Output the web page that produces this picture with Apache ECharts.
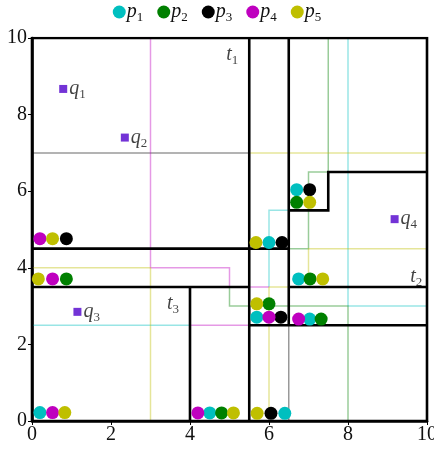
<!DOCTYPE html>
<html>
<head>
<meta charset="utf-8">
<script src="https://cdn.jsdelivr.net/npm/echarts@6/dist/echarts.min.js"></script>
<style>
  html, body { margin: 0; padding: 0; background: #fff; }
  #main { width: 434px; height: 452px; }
</style>
</head>
<body>
<div id="main"></div>
<script>
// point sets (x, y)
const p1 = [[0.2, 0.22], [4.5, 0.21], [6.4, 0.2], [6.0, 4.66], [6.7, 6.04], [6.75, 3.71], [5.69, 2.71], [7.03, 2.66]];
const p2 = [[4.8, 0.21], [0.87, 3.71], [6.7, 5.71], [7.04, 3.71], [6.0, 3.06], [7.32, 2.66]];
const p3 = [[0.87, 4.76], [6.05, 0.2], [6.33, 4.66], [7.03, 6.04], [6.3, 2.71]];
const p4 = [[0.2, 4.76], [0.52, 3.71], [0.52, 0.22], [4.2, 0.21], [6.0, 2.71], [6.75, 2.66]];
const p5 = [[0.52, 4.76], [0.16, 3.71], [0.83, 0.22], [5.1, 0.21], [5.7, 0.2], [5.67, 4.66], [7.03, 5.71], [7.36, 3.71], [5.69, 3.06]];

// query points
const queries = [[0.79, 8.67, '1'], [2.35, 7.4, '2'], [1.15, 2.85, '3'], [9.18, 5.27, '4']];

// tile labels
const tiles = [[5.07, 9.56, '1'], [9.73, 3.76, '2'], [3.57, 3.05, '3']];

// tile boundaries (thick)
const borders = [
  [[0, 0], [10, 0], [10, 10], [0, 10], [0, 0]],
  [[5.5, 0], [5.5, 10]],
  [[6.5, 2.5], [6.5, 10]],
  [[0, 4.5], [6.5, 4.5]],
  [[0, 3.5], [5.5, 3.5]],
  [[6.5, 3.5], [10, 3.5]],
  [[4, 0], [4, 3.5]],
  [[5.5, 2.5], [10, 2.5]],
  [[6.5, 5.5], [7.5, 5.5], [7.5, 6.5], [10, 6.5]]
];

// thin paths per set
const path1 = [
  [[8, 10], [8, 3], [10, 3]],
  [[6, 3.5], [6, 5.5], [6.5, 5.5]],
  [[0, 2.5], [4, 2.5]]
];
const path2 = [
  [[7.5, 10], [7.5, 6.5], [7, 6.5], [7, 4.5], [6.5, 4.5]],
  [[5, 3.5], [5, 3], [8, 3], [8, 0]]
];
const path3 = [
  [[0, 7], [5.5, 7]],
  [[6.5, 2.5], [6.5, 0]]
];
const path4 = [
  [[3, 10], [3, 4], [5, 4], [5, 3.5]],
  [[5.5, 3.5], [6, 3.5]],
  [[4, 2.5], [5.5, 2.5]]
];
const path5 = [
  [[0, 4], [3, 4], [3, 0]],
  [[5.5, 7], [10, 7]],
  [[10, 4.5], [7, 4.5], [7, 3.71]],
  [[6, 3.5], [6.5, 3.5]],
  [[6, 3.5], [6, 0.2]]
];

const names = ['p1', 'p2', 'p3', 'p4', 'p5'];
const colors = ['#00bfbf', '#008000', '#000000', '#bf00bf', '#bfbf00'];
const sets = [p1, p2, p3, p4, p5];
const paths = [path1, path2, path3, path4, path5];

const serif = 'Liberation Serif';
const mathRich = {
  i: { fontFamily: serif, fontStyle: 'italic', fontSize: 20, color: '#111' },
  s: { fontFamily: serif, fontSize: 13, color: '#111', padding: [11, 0, 0, 0] }
};

let myChart = echarts.init(document.getElementById('main'));

const series = [];
paths.forEach(function (p, k) {
  series.push({
    type: 'lines',
    coordinateSystem: 'cartesian2d',
    polyline: true,
    silent: true,
    z: 1,
    lineStyle: { color: colors[k], width: 1.5, opacity: 0.4 },
    data: p.map(function (c) { return { coords: c }; })
  });
});
series.push({
  type: 'lines',
  coordinateSystem: 'cartesian2d',
  polyline: true,
  silent: true,
  z: 2,
  lineStyle: { color: '#000', width: 2.6, opacity: 1, join: 'miter' },
  data: borders.map(function (c) { return { coords: c }; })
});
sets.forEach(function (d, k) {
  series.push({
    name: names[k],
    type: 'scatter',
    z: 3,
    symbol: 'circle',
    symbolSize: 13,
    itemStyle: { color: colors[k], opacity: 1 },
    data: d
  });
});
series.push({
  name: 'q',
  type: 'scatter',
  z: 3,
  symbol: 'rect',
  symbolSize: 8,
  itemStyle: { color: '#5000cc' },
  label: {
    show: true,
    position: 'right',
    distance: 2,
    formatter: function (v) { return '{i|q}{s|' + v.data[2] + '}'; },
    rich: mathRich
  },
  data: queries
});
series.push({
  name: 't',
  type: 'scatter',
  z: 3,
  symbolSize: 0,
  label: {
    show: true,
    position: 'inside',
    formatter: function (v) { return '{i|t}{s|' + v.data[2] + '}'; },
    rich: mathRich
  },
  data: tiles
});

myChart.setOption({
  animation: false,
  grid: { left: 32, right: 7, top: 38, bottom: 31, containLabel: false, outerBoundsMode: 'none' },
  legend: {
    data: names,
    top: -3,
    left: 'center',
    icon: 'circle',
    itemWidth: 13,
    itemHeight: 13,
    itemGap: 14,
    textStyle: { padding: [0, 0, 0, -4], rich: mathRich },
    formatter: function (n) { return '{i|p}{s|' + n.slice(1) + '}'; }
  },
  xAxis: {
    type: 'value',
    min: 0, max: 10, interval: 2,
    axisLine: { show: true, lineStyle: { color: '#000', width: 2.6 } },
    axisTick: { show: true, length: 4, lineStyle: { color: '#000', width: 1 } },
    axisLabel: { fontFamily: serif, fontSize: 20, color: '#111', margin: 4 },
    splitLine: { show: false }
  },
  yAxis: {
    type: 'value',
    min: 0, max: 10, interval: 2,
    axisLine: { show: true, lineStyle: { color: '#000', width: 2.6 } },
    axisTick: { show: true, length: 4, lineStyle: { color: '#000', width: 1 } },
    axisLabel: { fontFamily: serif, fontSize: 20, color: '#111', margin: 5 },
    splitLine: { show: false }
  },
  series: series
});
</script>
</body>
</html>
